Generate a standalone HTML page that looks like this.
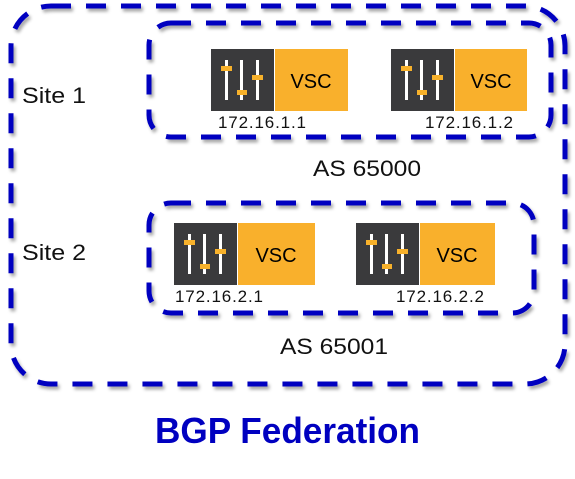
<!DOCTYPE html>
<html><head><style>html,body{margin:0;padding:0;background:#fff;}svg{display:block}</style></head>
<body>
<svg width="575" height="479" viewBox="0 0 575 479" xmlns="http://www.w3.org/2000/svg" font-family="Liberation Sans, sans-serif">
<defs>
<filter id="sh" x="-10%" y="-10%" width="120%" height="120%"><feDropShadow dx="2" dy="3" stdDeviation="1.5" flood-color="#000" flood-opacity="0.35"/></filter>
<g id="slid">
<rect x="0" y="0" width="63" height="62" fill="#3a3a3c"/>
<rect x="14" y="11" width="3" height="40" fill="#fff"/>
<rect x="29" y="11" width="3" height="40" fill="#fff"/>
<rect x="45" y="11" width="3" height="40" fill="#fff"/>
<rect x="10" y="17" width="11" height="5" fill="#f7b12b"/>
<rect x="26" y="41" width="10" height="5" fill="#f7b12b"/>
<rect x="41" y="26" width="11" height="5" fill="#f7b12b"/>
</g>
</defs>
<g fill="none" stroke="#0000c0" stroke-width="5" stroke-dasharray="20 15" filter="url(#sh)">
<rect x="11" y="6" width="554" height="378" rx="40"/>
<rect x="149" y="23" width="402" height="114" rx="22"/>
<rect x="149" y="203" width="385" height="110" rx="22"/>
</g>
<use href="#slid" x="211" y="49"/><rect x="275" y="49" width="73" height="62" fill="#f9b02c"/>
<text x="311" y="88" font-size="20" text-anchor="middle">VSC</text>
<use href="#slid" x="391" y="49"/><rect x="455" y="49" width="72" height="62" fill="#f9b02c"/>
<text x="491" y="88" font-size="20" text-anchor="middle">VSC</text>
<use href="#slid" x="174" y="223"/><rect x="238" y="223" width="77" height="62" fill="#f9b02c"/>
<text x="276" y="262" font-size="20" text-anchor="middle">VSC</text>
<use href="#slid" x="356" y="223"/><rect x="420" y="223" width="75" height="62" fill="#f9b02c"/>
<text x="457" y="262" font-size="20" text-anchor="middle">VSC</text>
<g font-size="17" fill="#111" lengthAdjust="spacingAndGlyphs">
<text x="218" y="128" textLength="88">172.16.1.1</text>
<text x="425" y="128" textLength="88">172.16.1.2</text>
<text x="175" y="302" textLength="88">172.16.2.1</text>
<text x="396" y="302" textLength="88">172.16.2.2</text>
</g>
<g font-size="22" fill="#111">
<text x="22" y="103" textLength="64" lengthAdjust="spacingAndGlyphs">Site 1</text>
<text x="22" y="260" textLength="64" lengthAdjust="spacingAndGlyphs">Site 2</text>
<text x="313" y="176" textLength="108" lengthAdjust="spacingAndGlyphs">AS 65000</text>
<text x="280" y="354" textLength="108" lengthAdjust="spacingAndGlyphs">AS 65001</text>
</g>
<text x="155" y="443" font-size="36" font-weight="bold" fill="#0000c0" textLength="265" lengthAdjust="spacingAndGlyphs">BGP Federation</text>
</svg>
</body></html>
